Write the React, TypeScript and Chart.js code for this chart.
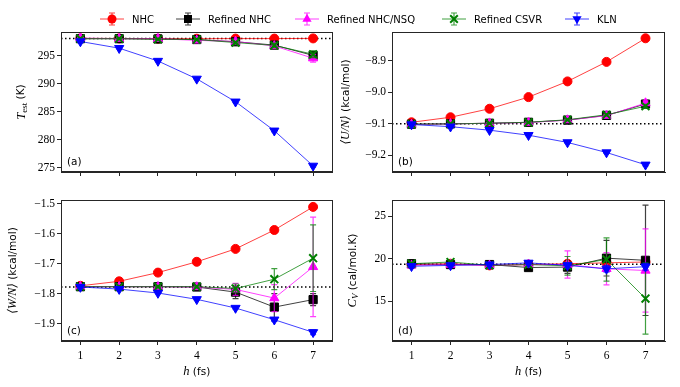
import React, { useEffect, useRef } from 'react';
import { Chart, registerables } from 'chart.js';

Chart.register(...registerables);

// ---------------- data ----------------
const hSteps = [1, 2, 3, 4, 5, 6, 7];
const hTicks = [1, 2, 3, 4, 5, 6, 7];
const seriesNames = ['NHC', 'Refined NHC', 'Refined NHC/NSQ', 'Refined CSVR', 'KLN'];

// (a) T_est (K)
const tempNHC = [298.15, 298.15, 298.1, 298.1, 298.12, 298.12, 298.15];
const tempRefNHC = [298.1, 298.1, 298.05, 297.95, 297.55, 296.95, 295.1];
const tempRefNSQ = [298.2, 298.1, 298.1, 297.8, 297.6, 296.8, 294.6];
const tempRefCSVR = [298.1, 298.1, 298.0, 297.95, 297.4, 296.9, 295.3];
const tempKLN = [297.6, 296.4, 294.1, 290.9, 286.8, 281.6, 275.3];
const tempNHCErr = [0.05, 0.05, 0.05, 0.05, 0.05, 0.05, 0.05];
const tempRefNHCErr = [0.1, 0.1, 0.1, 0.15, 0.2, 0.4, 0.7];
const tempRefNSQErr = [0.1, 0.1, 0.1, 0.15, 0.25, 0.45, 0.7];
const tempRefCSVRErr = [0.1, 0.1, 0.1, 0.15, 0.2, 0.4, 0.6];
const tempKLNErr = [0.1, 0.1, 0.1, 0.1, 0.15, 0.2, 0.2];
const tempRef = 298.15;
const tempTicks = [275, 280, 285, 290, 295];

// (b) <U/N> (kcal/mol)
const uNHC = [-9.096, -9.08, -9.053, -9.016, -8.966, -8.904, -8.829];
const uRefNHC = [-9.102, -9.101, -9.099, -9.096, -9.089, -9.074, -9.038];
const uRefNSQ = [-9.103, -9.101, -9.099, -9.097, -9.089, -9.075, -9.035];
const uRefCSVR = [-9.102, -9.101, -9.099, -9.096, -9.088, -9.072, -9.045];
const uKLN = [-9.103, -9.11, -9.121, -9.137, -9.16, -9.192, -9.231];
const uNHCErr = [0.002, 0.002, 0.002, 0.002, 0.002, 0.002, 0.003];
const uRefNHCErr = [0.002, 0.002, 0.002, 0.003, 0.003, 0.004, 0.006];
const uRefNSQErr = [0.002, 0.002, 0.002, 0.003, 0.003, 0.005, 0.007];
const uRefCSVRErr = [0.002, 0.002, 0.002, 0.003, 0.003, 0.004, 0.006];
const uKLNErr = [0.002, 0.002, 0.002, 0.002, 0.003, 0.003, 0.004];
const uRef = -9.101;
const uTicks = [-9.2, -9.1, -9.0, -8.9];

// (c) <W/N> (kcal/mol)
const wNHC = [-1.774, -1.759, -1.73, -1.694, -1.651, -1.588, -1.511];
const wRefNHC = [-1.777, -1.777, -1.777, -1.778, -1.795, -1.845, -1.82];
const wRefNSQ = [-1.777, -1.777, -1.777, -1.778, -1.786, -1.815, -1.711];
const wRefCSVR = [-1.777, -1.777, -1.777, -1.777, -1.783, -1.752, -1.682];
const wKLN = [-1.778, -1.785, -1.798, -1.819, -1.848, -1.887, -1.929];
const wNHCErr = [0.002, 0.002, 0.002, 0.002, 0.003, 0.003, 0.004];
const wRefNHCErr = [0.002, 0.002, 0.003, 0.004, 0.022, 0.045, 0.02];
const wRefNSQErr = [0.002, 0.002, 0.003, 0.005, 0.02, 0.045, 0.166];
const wRefCSVRErr = [0.002, 0.002, 0.003, 0.004, 0.015, 0.035, 0.111];
const wKLNErr = [0.002, 0.002, 0.002, 0.003, 0.004, 0.006, 0.008];
const wRef = -1.778;
const wTicks = [-1.9, -1.8, -1.7, -1.6, -1.5];

// (d) C_V (cal/mol.K)
const cNHC = [19.3, 19.4, 19.2, 19.3, 19.4, 19.5, 19.6];
const cRefNHC = [19.4, 19.3, 19.3, 18.95, 19.0, 20.05, 19.8];
const cRefNSQ = [19.2, 19.3, 19.2, 19.3, 19.3, 18.8, 18.6];
const cRefCSVR = [19.4, 19.6, 19.2, 19.3, 19.15, 19.9, 15.3];
const cKLN = [19.1, 19.2, 19.3, 19.5, 19.2, 18.8, 19.05];
const cNHCErr = [0.2, 0.2, 0.2, 0.25, 0.35, 0.45, 0.5];
const cRefNHCErr = [0.2, 0.2, 0.25, 0.3, 0.75, 2.1, 6.5];
const cRefNSQErr = [0.2, 0.2, 0.25, 0.3, 1.6, 1.9, 4.9];
const cRefCSVRErr = [0.2, 0.2, 0.25, 0.3, 1.1, 2.55, 4.2];
const cKLNErr = [0.15, 0.15, 0.2, 0.25, 0.3, 0.4, 0.4];
const cRef = 19.35;
const cTicks = [15, 20, 25];

// ---------------- styles ----------------
const lineColors = ['rgba(255,0,0,0.75)', 'rgba(0,0,0,0.75)', 'rgba(255,0,255,0.75)', 'rgba(0,128,0,0.75)', 'rgba(0,0,255,0.75)'];
const markColors = ['#ff0000', '#000000', '#ff00ff', '#008000', '#0000ff'];
const markStyles = ['circle', 'rect', 'triangle', 'crossRot', 'triangle'];
const markRot = [0, 0, 0, 0, 180];
const markRadius = [4.5, 5.8, 5.3, 5.5, 5.3];
const markBorder = [1, 1, 1, 2, 1];
const drawOrder = [4, 3, 2, 1, 0];
const legendX = [112, 188, 307, 454, 577];

const SERIF = '"Liberation Serif", "DejaVu Serif", serif';
const SANS = '"DejaVu Sans", sans-serif';

type Seg = { t: string; f: string; dy?: number };

const fmt = (d: number) => (v: number) => v.toFixed(d).replace('-', '\u2212');

interface PanelCfg {
  label: string;
  values: number[][];
  errors: number[][];
  ref: number;
  yMin: number;
  yMax: number;
  yTicks: number[];
  decimals: number;
  yTitle: Seg[];
  showXLabels: boolean;
  left: number;
  top: number;
  width: number;
  height: number;
  yAxisW: number;
  xAxisH: number;
  padTop: number;
  padRight: number;
  yTitleOff: number;
}

const panels: PanelCfg[] = [
  {
    label: '(a)',
    values: [tempNHC, tempRefNHC, tempRefNSQ, tempRefCSVR, tempKLN],
    errors: [tempNHCErr, tempRefNHCErr, tempRefNSQErr, tempRefCSVRErr, tempKLNErr],
    ref: tempRef, yMin: 274.2, yMax: 299.3, yTicks: tempTicks, decimals: 0,
    yTitle: [
      { t: 'T', f: `italic 12.5px ${SERIF}` },
      { t: 'est', f: `9px ${SERIF}`, dy: 3 },
      { t: ' (K)', f: `10.5px ${SANS}` },
    ],
    showXLabels: false,
    left: 0, top: 0, width: 340, height: 190, yAxisW: 61, xAxisH: 18, padTop: 32, padRight: 7, yTitleOff: 39.5,
  },
  {
    label: '(b)',
    values: [uNHC, uRefNHC, uRefNSQ, uRefCSVR, uKLN],
    errors: [uNHCErr, uRefNHCErr, uRefNSQErr, uRefCSVRErr, uKLNErr],
    ref: uRef, yMin: -9.254, yMax: -8.809, yTicks: uTicks, decimals: 1,
    yTitle: [
      { t: '\u27E8U/N\u27E9', f: `italic 12px ${SERIF}` },
      { t: ' (kcal/mol)', f: `10.5px ${SANS}` },
    ],
    showXLabels: false,
    left: 340, top: 0, width: 340, height: 190, yAxisW: 52, xAxisH: 18, padTop: 32, padRight: 15, yTitleOff: 46,
  },
  {
    label: '(c)',
    values: [wNHC, wRefNHC, wRefNSQ, wRefCSVR, wKLN],
    errors: [wNHCErr, wRefNHCErr, wRefNSQErr, wRefCSVRErr, wKLNErr],
    ref: wRef, yMin: -1.958, yMax: -1.488, yTicks: wTicks, decimals: 1,
    yTitle: [
      { t: '\u27E8W/N\u27E9', f: `italic 12px ${SERIF}` },
      { t: ' (kcal/mol)', f: `10.5px ${SANS}` },
    ],
    showXLabels: true,
    left: 0, top: 190, width: 340, height: 197, yAxisW: 61, xAxisH: 46, padTop: 10, padRight: 7, yTitleOff: 48,
  },
  {
    label: '(d)',
    values: [cNHC, cRefNHC, cRefNSQ, cRefCSVR, cKLN],
    errors: [cNHCErr, cRefNHCErr, cRefNSQErr, cRefCSVRErr, cKLNErr],
    ref: cRef, yMin: 10.3, yMax: 26.9, yTicks: cTicks, decimals: 0,
    yTitle: [
      { t: 'C', f: `italic 12.5px ${SERIF}` },
      { t: 'V', f: `italic 9px ${SERIF}`, dy: 3 },
      { t: ' (cal/mol.K)', f: `10.5px ${SANS}` },
    ],
    showXLabels: true,
    left: 340, top: 190, width: 340, height: 197, yAxisW: 52, xAxisH: 46, padTop: 10, padRight: 15, yTitleOff: 39,
  },
];

const xTitle: Seg[] = [
  { t: 'h', f: `italic 12.5px ${SERIF}` },
  { t: ' (fs)', f: `10.5px ${SANS}` },
];

function drawRich(ctx: CanvasRenderingContext2D, segs: Seg[], cx: number, cy: number, rot: number) {
  ctx.save();
  ctx.translate(cx, cy);
  ctx.rotate(rot);
  ctx.textBaseline = 'middle';
  ctx.textAlign = 'left';
  ctx.fillStyle = '#000';
  let total = 0;
  const widths = segs.map((s) => {
    ctx.font = s.f;
    const w = ctx.measureText(s.t).width;
    total += w;
    return w;
  });
  let x = -total / 2;
  segs.forEach((s, i) => {
    ctx.font = s.f;
    ctx.fillText(s.t, x, s.dy || 0);
    x += widths[i];
  });
  ctx.restore();
}

function PanelChart({ cfg }: { cfg: PanelCfg }) {
  const ref = useRef<HTMLCanvasElement | null>(null);
  useEffect(() => {
    if (!ref.current) return;
    const datasets = cfg.values.map((vals, i) => ({
      label: seriesNames[i],
      data: hSteps.map((h, j) => ({ x: h, y: vals[j] })),
      errors: cfg.errors[i],
      borderColor: lineColors[i],
      borderWidth: 1,
      backgroundColor: markColors[i],
      pointStyle: markStyles[i],
      pointRotation: markRot[i],
      pointRadius: markRadius[i],
      pointBackgroundColor: markColors[i],
      pointBorderColor: markColors[i],
      pointBorderWidth: markBorder[i],
      fill: false,
      tension: 0,
      order: drawOrder[i],
    }));

    const extras = {
      id: 'extras',
      beforeDatasetsDraw(chart: any) {
        const { ctx, chartArea } = chart;
        const y = chart.scales.y.getPixelForValue(cfg.ref);
        ctx.save();
        ctx.strokeStyle = '#000';
        ctx.lineWidth = 1.5;
        ctx.setLineDash([1.5, 2.5]);
        ctx.beginPath();
        ctx.moveTo(chartArea.left, y);
        ctx.lineTo(chartArea.right, y);
        ctx.stroke();
        ctx.restore();
      },
      beforeDatasetDraw(chart: any, args: any) {
        const ds: any = chart.data.datasets[args.index];
        const errs: number[] = ds.errors;
        if (!errs) return;
        const { ctx } = chart;
        const xs = chart.scales.x;
        const ys = chart.scales.y;
        ctx.save();
        ctx.strokeStyle = ds.borderColor;
        ctx.lineWidth = 1.2;
        ctx.beginPath();
        ds.data.forEach((p: any, j: number) => {
          const px = xs.getPixelForValue(p.x);
          const y1 = ys.getPixelForValue(p.y + errs[j]);
          const y2 = ys.getPixelForValue(p.y - errs[j]);
          ctx.moveTo(px, y1);
          ctx.lineTo(px, y2);
          ctx.moveTo(px - 3, y1);
          ctx.lineTo(px + 3, y1);
          ctx.moveTo(px - 3, y2);
          ctx.lineTo(px + 3, y2);
        });
        ctx.stroke();
        ctx.restore();
      },
      afterDraw(chart: any) {
        const { ctx, chartArea } = chart;
        ctx.save();
        ctx.strokeStyle = '#262626';
        ctx.lineWidth = 1;
        ctx.strokeRect(Math.round(chartArea.left) + 0.5, Math.round(chartArea.top) + 0.5,
          Math.round(chartArea.right - chartArea.left) - 1, Math.round(chartArea.bottom - chartArea.top) - 1);
        ctx.fillStyle = '#000';
        ctx.font = `10.5px ${SANS}`;
        ctx.textBaseline = 'middle';
        ctx.textAlign = 'left';
        ctx.fillText(cfg.label, chartArea.left + 6, chartArea.bottom - 10);
        ctx.restore();
        drawRich(ctx, cfg.yTitle, chartArea.left - cfg.yTitleOff, (chartArea.top + chartArea.bottom) / 2, -Math.PI / 2);
        if (cfg.showXLabels) {
          drawRich(ctx, xTitle, (chartArea.left + chartArea.right) / 2, chartArea.bottom + 31, 0);
        }
      },
    };

    const chart = new Chart(ref.current, {
      type: 'line',
      data: { datasets: datasets as any },
      options: {
        animation: false,
        responsive: false,
        events: [],
        layout: { padding: { top: cfg.padTop, right: cfg.padRight, left: 0, bottom: 0 } },
        plugins: { legend: { display: false }, tooltip: { enabled: false } },
        scales: {
          x: {
            type: 'linear',
            min: 0.5,
            max: 7.5,
            afterBuildTicks: (s: any) => { s.ticks = hTicks.map((v) => ({ value: v })); },
            afterFit: (s: any) => { s.height = cfg.xAxisH; },
            grid: { display: true, drawOnChartArea: false, drawTicks: true, tickLength: 4, color: '#262626', lineWidth: 1 },
            border: { display: true, color: '#262626', width: 1 },
            ticks: {
              display: cfg.showXLabels,
              padding: 4,
              color: '#000',
              font: { family: SERIF, size: 11.5 },
              maxRotation: 0,
              autoSkip: false,
              callback: (v: any) => String(v),
            },
          },
          y: {
            type: 'linear',
            min: cfg.yMin,
            max: cfg.yMax,
            afterBuildTicks: (s: any) => { s.ticks = cfg.yTicks.map((v) => ({ value: v })); },
            afterFit: (s: any) => { s.width = cfg.yAxisW; },
            grid: { display: true, drawOnChartArea: false, drawTicks: true, tickLength: 4, color: '#262626', lineWidth: 1 },
            border: { display: true, color: '#262626', width: 1 },
            ticks: {
              padding: 2,
              color: '#000',
              font: { family: SERIF, size: 11.5 },
              autoSkip: false,
              callback: (v: any) => fmt(cfg.decimals)(Number(v)),
            },
          },
        },
      } as any,
      plugins: [extras],
    });
    return () => chart.destroy();
  }, [cfg]);
  return (
    <canvas
      ref={ref}
      width={cfg.width}
      height={cfg.height}
      style={{ position: 'absolute', left: cfg.left, top: cfg.top, width: cfg.width, height: cfg.height }}
    />
  );
}

function LegendIcon({ i }: { i: number }) {
  const c = markColors[i];
  const lc = lineColors[i];
  const cx = 12;
  const cy = 10;
  let marker: React.ReactNode = null;
  if (i === 0) marker = <circle cx={cx} cy={cy} r={4.5} fill={c} />;
  else if (i === 1) marker = <rect x={cx - 4} y={cy - 4} width={8} height={8} fill={c} />;
  else if (i === 2) marker = <polygon points={`${cx},${cy - 5.3} ${cx + 4.6},${cy + 2.65} ${cx - 4.6},${cy + 2.65}`} fill={c} />;
  else if (i === 3)
    marker = (
      <path d={`M${cx - 3.8},${cy - 3.8} L${cx + 3.8},${cy + 3.8} M${cx + 3.8},${cy - 3.8} L${cx - 3.8},${cy + 3.8}`} stroke={c} strokeWidth={2} />
    );
  else marker = <polygon points={`${cx},${cy + 5.3} ${cx + 4.6},${cy - 2.65} ${cx - 4.6},${cy - 2.65}`} fill={c} />;
  return (
    <svg width={24} height={20} style={{ display: 'block' }}>
      <line x1={0} y1={cy} x2={24} y2={cy} stroke={lc} strokeWidth={1} />
      <path d={`M${cx},${cy - 6} L${cx},${cy + 6} M${cx - 3},${cy - 6} L${cx + 3},${cy - 6} M${cx - 3},${cy + 6} L${cx + 3},${cy + 6}`} stroke={lc} strokeWidth={1.2} fill="none" />
      {marker}
    </svg>
  );
}

export default function App() {
  return (
    <div style={{ position: 'absolute', left: 0, top: 0, width: 680, height: 387, background: '#fff', overflow: 'hidden' }}>
      {panels.map((p) => (
        <PanelChart key={p.label} cfg={p} />
      ))}
      {seriesNames.map((name, i) => (
        <div
          key={name}
          style={{ position: 'absolute', left: legendX[i] - 12, top: 9, height: 20, display: 'flex', alignItems: 'center', whiteSpace: 'nowrap', zIndex: 2 }}
        >
          <LegendIcon i={i} />
          <span style={{ marginLeft: 8, font: `10px ${SANS}`, color: '#000' }}>{name}</span>
        </div>
      ))}
    </div>
  );
}
